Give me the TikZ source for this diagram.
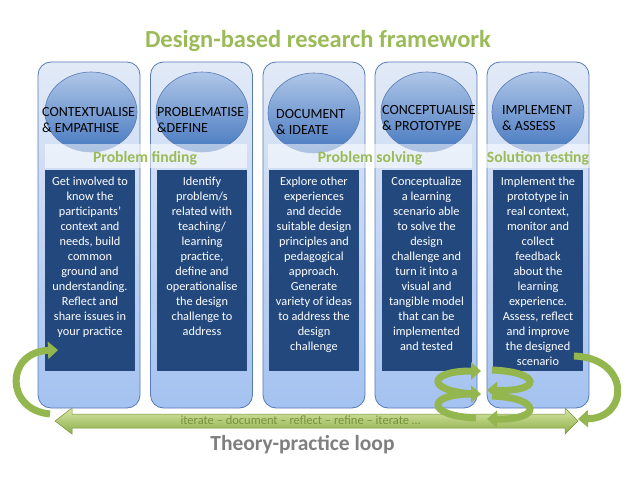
\documentclass[tikz,border=0pt]{standalone}
\usepackage{fontspec}
\setmainfont{Carlito}
\usetikzlibrary{arrows.meta,shapes.geometric}
\definecolor{grn}{RGB}{155,187,89}
\definecolor{dgrn}{RGB}{118,146,60}
\definecolor{agrn}{RGB}{148,182,78}
\definecolor{colTop}{RGB}{226,234,247}
\definecolor{colBot}{RGB}{164,194,240}
\definecolor{colLine}{RGB}{88,122,180}
\definecolor{cirTop}{RGB}{175,198,232}
\definecolor{cirBot}{RGB}{70,120,192}
\definecolor{boxBlue}{RGB}{34,72,126}
\definecolor{gry}{RGB}{127,127,127}
\begin{document}
\begin{tikzpicture}[x=1pt,y=-1pt,
  column/.style={rectangle,top color=colTop,bottom color=colBot,draw=colLine,line width=0.8pt,rounded corners=13pt,minimum width=102pt,minimum height=346pt,inner sep=0pt},
  disc/.style={ellipse,top color=cirTop,bottom color=cirBot,draw=colLine,line width=0.6pt,minimum width=92pt,minimum height=80pt,inner sep=0pt},
  phase/.style={anchor=north west,align=left,inner sep=0pt,font=\fontsize{14}{16.5}\selectfont,text=black},
  darkbox/.style={rectangle,fill=boxBlue,minimum width=90pt,minimum height=201pt,inner sep=0pt},
  body/.style={anchor=north,align=center,inner sep=0pt,text=white,font=\fontsize{12.3}{15}\selectfont},
  bandlabel/.style={anchor=base,inner sep=0pt,text=grn,font=\fontsize{15.7}{18}\selectfont\bfseries},
  band/.style={fill=white,opacity=0.55},
  garrow/.style={draw=agrn,line width=7pt,-{Triangle[length=10pt,width=17pt]}}
]
\useasboundingbox (0,0) rectangle (638,479);
\fill[white] (0,0) rectangle (638,479);

% title
\node[anchor=base,inner sep=0pt,text=grn,font=\fontsize{24.5}{28}\selectfont\bfseries] (title) at (318,47) {Design-based research framework};

% columns
\node[column] (k1) at (89,235) {};
\node[column] (k2) at (201.5,235) {};
\node[column] (k3) at (314,235) {};
\node[column] (k4) at (426,235) {};
\node[column] (k5) at (538,235) {};

% circles
\node[disc] (c1) at (91,112) {};
\node[disc] (c2) at (202,112) {};
\node[disc] (c3) at (314,113) {};
\node[disc] (c4) at (427,112) {};
\node[disc] (c5) at (538,112) {};

\node[phase] (p1) at (42,107) {CONTEXTUALISE\\\& EMPATHISE};
\node[phase] (p2) at (157,107) {PROBLEMATISE\\\&DEFINE};
\node[phase] (p3) at (276,109) {DOCUMENT\\\& IDEATE};
\node[phase] (p4) at (382,105) {CONCEPTUALISE\\\& PROTOTYPE};
\node[phase] (p5) at (502,105) {IMPLEMENT\\\& ASSESS};

% bands
\fill[band] (45,144) rectangle (247,168);
\fill[band] (268,144) rectangle (472,168);
\fill[band] (482,144) rectangle (600,168);
\node[bandlabel] (b1) at (145,162) {Problem finding};
\node[bandlabel] (b2) at (370,162) {Problem solving};
\node[bandlabel] (b3) at (538,162) {Solution testing};

% dark boxes
\node[darkbox] (d1) at (90,270.5) {};
\node[darkbox] (d2) at (202,270.5) {};
\node[darkbox] (d3) at (314,270.5) {};
\node[darkbox] (d4) at (426.5,270.5) {};
\node[darkbox] (d5) at (538,270.5) {};

\node[body] (t1) at (90,177) {Get involved to\\know the\\participants’\\context and\\needs, build\\common\\ground and\\understanding.\\Reflect and\\share issues in\\your practice};
\node[body] (t2) at (202,177) {Identify\\problem/s\\related with\\teaching/\\learning\\practice,\\define and\\operationalise\\the design\\challenge to\\address};
\node[body] (t3) at (314,177) {Explore other\\experiences\\and decide\\suitable design\\principles and\\pedagogical\\approach.\\Generate\\variety of ideas\\to address the\\design\\challenge};
\node[body] (t4) at (426.5,177) {Conceptualize\\a learning\\scenario able\\to solve the\\design\\challenge and\\turn it into a\\visual and\\tangible model\\that can be\\implemented\\and tested};
\node[body] (t5) at (538,177) {Implement the\\prototype in\\real context,\\monitor and\\collect\\feedback\\about the\\learning\\experience.\\Assess, reflect\\and improve\\the designed\\scenario};

% bottom double arrow
\shade[top color={rgb,255:red,218;green,230;blue,170},bottom color={rgb,255:red,138;green,174;blue,68},draw=dgrn,line width=0.5pt]
  (55,421) -- (72,408) -- (72,414) -- (565,414) -- (565,408) -- (578,421) -- (565,434) -- (565,428) -- (72,428) -- (72,434) -- cycle;
\node[anchor=base,inner sep=0pt,text=dgrn,font=\fontsize{12.5}{14}\selectfont] (loop) at (300.5,424.5) {iterate – document – reflect – refine – iterate …};

\node[anchor=base,inner sep=0pt,text=gry,font=\fontsize{21.5}{24}\selectfont\bfseries] (theory) at (302.5,450) {Theory-practice loop};

% curved arrows
\coordinate (lt) at (50,414);
\coordinate (lh) at (58,350);
\coordinate (rt) at (574,356);
\coordinate (rh) at (578,419);
\draw[garrow] (lt) .. controls (5,410) and (5,352) .. (lh);
\draw[garrow] (rt) .. controls (630,358) and (630,418) .. (rh);

% spiral
\coordinate (l1s) at (476,394); \coordinate (l1e) at (481,371);
\coordinate (l2s) at (476,418); \coordinate (l2e) at (481,394);
\coordinate (r1s) at (492,370); \coordinate (r1e) at (487,390);
\coordinate (r2s) at (492,396); \coordinate (r2e) at (487,419);
\draw[garrow] (l2s) .. controls (426,416) and (426,394) .. (l2e);
\draw[garrow] (r2s) .. controls (542,398) and (542,420) .. (r2e);
\draw[garrow] (l1s) .. controls (426,392) and (426,371) .. (l1e);
\draw[garrow] (r1s) .. controls (542,372) and (542,392) .. (r1e);
\end{tikzpicture}
\end{document}
